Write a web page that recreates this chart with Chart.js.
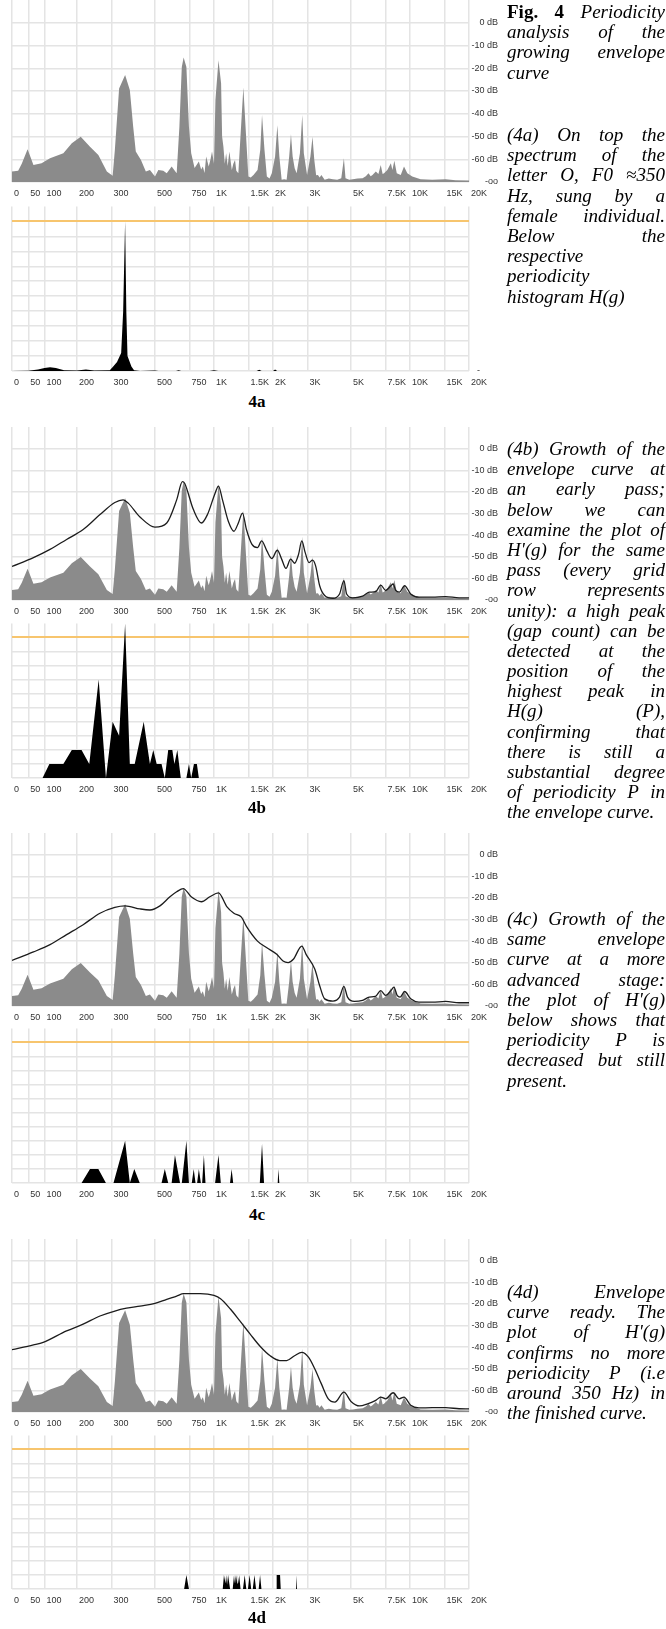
<!DOCTYPE html>
<html><head><meta charset="utf-8">
<script src="https://cdn.jsdelivr.net/npm/chart.js@4.4.1/dist/chart.umd.min.js"></script>
<style>
html,body{margin:0;padding:0;background:#fff}
body{width:666px;height:1629px;position:relative;overflow:hidden}
canvas{position:absolute;left:0}
.txt{position:absolute;left:507px;width:158px;font-family:"Liberation Serif","Times New Roman",serif;font-style:italic;font-size:19px;line-height:20.2px;color:#000}
.txt div{text-align:justify;text-align-last:justify;height:20.2px;white-space:normal}
.txt div.l{text-align-last:left}
.txt b{font-style:normal}
.lab{position:absolute;width:80px;margin-left:-40px;text-align:center;font:bold 17px "Liberation Serif","Times New Roman",serif;color:#000}
</style>
</head><body>
<script>
// ---------- axis definition ----------
const TICK_HZ     = [0, 50, 100, 200, 300, 500, 750, 1000, 1500, 2000, 3000, 5000, 7500, 10000, 15000, 20000];
const TICK_LABELS = ['0','50','100','200','300','500','750','1K','1.5K','2K','3K','5K','7.5K','10K','15K','20K'];
const DB_TICKS    = [-70, -60, -50, -40, -30, -20, -10, 0];
const COUNT_TICKS = [0, 1, 2, 3, 4, 5, 6, 7, 8, 9, 10];

// ---------- spectrum of the sung "O" (same in all four panels) ----------
const SPECTRUM_HZ = [0,19,30,48,66,91,117,158,184,209,233,257,284,304,312,328,352,372,387,399,424,449,471,500,520,551,574,608,645,666,685,700,723,745,765,796,837,860,877,895,912,940,960,977,1000,1017,1054,1087,1100,1117,1135,1153,1175,1198,1233,1255,1280,1300,1331,1368,1412,1455,1497,1540,1590,1668,1722,1758,1810,1861,1920,1972,2050,2105,2155,2214,2280,2347,2419,2470,2519,2580,2640,2744,2820,2873,2985,3104,3181,3249,3320,3391,3460,3531,3669,3850,4046,4250,4461,4600,4688,4900,5104,5400,5728,5950,6143,6300,6436,6692,6900,7092,7250,7373,7661,7988,8130,8320,8560,8970,9320,9690,10270,11330,12990,15200,17070,20000];
const SPECTRUM_DB = [-65.4,-65,-62,-55.6,-62.5,-61.8,-59.6,-57.4,-53,-50.1,-54.5,-58.1,-65.4,-67.2,-55.9,-28.9,-23,-29.6,-45.7,-56.6,-60.3,-65.4,-64.7,-67.6,-64.7,-65,-66.2,-63.2,-66.2,-45.7,-19.4,-15.3,-19.4,-45.7,-57.4,-63.9,-61,-64.5,-63.2,-66,-58.8,-63.2,-60,-56.6,-62,-34,-16.5,-26.7,-50,-54.5,-62,-57.4,-63,-56.6,-64.7,-62,-60.3,-65,-66.2,-48.6,-28.5,-48.6,-67.6,-68,-66.9,-64.7,-55.9,-40.6,-55.9,-67.6,-68.5,-66.2,-58.8,-45,-58.8,-69,-68.8,-69,-58.8,-49,-58.8,-64,-66.2,-57.4,-40.6,-57.4,-66.9,-58.8,-50.1,-60.3,-67,-66.9,-68,-66.9,-69,-68.5,-68.8,-69,-68.3,-59.6,-68.3,-69,-68.8,-68.5,-68.3,-67.5,-66.2,-67.5,-66.9,-65.4,-66.5,-62.5,-66.5,-66.2,-64.7,-61.8,-64.7,-60.7,-66.2,-66.9,-63.2,-66.2,-67.6,-68.8,-69,-68.8,-69.2,-69.3];

// ---------- envelope curves (4b, 4c, 4d) ----------
const ENV_B_HZ = [0,66,117,168,215,262,312,344,365,419,500,574,645,690,708,785,863,926,1013,1054,1105,1183,1263,1331,1397,1464,1562,1667,1750,1861,1972,2105,2214,2330,2460,2577,2700,2805,2920,3055,3181,3300,3460,3669,4046,4370,4600,4750,5104,5728,6193,6692,7092,7516,7988,8200,8460,8820,9390,10080,11100,12990,15200,17800,20000];
const ENV_B_DB = [-54.5,-50.4,-46.6,-42,-37.4,-30.5,-24.9,-23.7,-25.2,-31.6,-36.3,-34.4,-23.7,-15.3,-16,-28.2,-34.4,-30.5,-20.6,-17.3,-23.7,-33.6,-38.2,-34.4,-29.8,-37.4,-44.3,-45.8,-42.7,-47.3,-50.8,-47,-51.1,-55.4,-51.1,-53,-48.9,-42.7,-48.1,-52.7,-51.6,-54.2,-63.4,-67.9,-69.2,-67.2,-61,-67.2,-69,-68.2,-66.4,-66.1,-63.1,-65.6,-63.4,-62.6,-65.6,-66.4,-63.4,-67.2,-68.7,-68.7,-68.4,-69,-69];
const ENV_C_HZ = [0,66,117,168,215,262,312,352,419,471,530,596,645,697,765,863,952,1054,1162,1263,1380,1464,1667,1861,2090,2250,2390,2540,2805,2950,3270,3460,3669,4046,4370,4600,4800,5200,5728,6193,6650,7092,7516,7988,8280,8600,8900,9390,10080,11100,12990,15200,17800,20000];
const ENV_C_DB = [-48.9,-45,-41.6,-37,-32.4,-27.1,-24.4,-23.7,-25.1,-25.6,-23.7,-19.5,-17.2,-15.7,-19.5,-21.8,-19.5,-17.7,-24,-27.1,-28.9,-33.2,-40,-43.1,-46.1,-49.2,-49.9,-48.4,-42.3,-46.1,-53,-60.6,-66.7,-67.7,-65.9,-60.9,-65.9,-67.9,-67.4,-65.9,-65.6,-62.9,-65.1,-62.9,-61.3,-65.1,-65.9,-63.3,-66.7,-68.2,-68.2,-67.9,-68.5,-68.5];
const ENV_D_HZ = [0,66,96,168,215,262,312,358,419,500,574,645,700,851,1000,1080,1215,1355,1530,1722,1935,2170,2347,2577,2805,3040,3270,3531,3830,4140,4600,5000,5530,6080,6692,7092,7516,8200,8820,9320,10080,11100,12990,15200,17800,20000];
const ENV_D_DB = [-41.2,-39,-37.8,-32.5,-29.4,-25.6,-23.3,-22,-21,-19.8,-17.9,-16.4,-15.3,-15.3,-16.1,-17.6,-22.5,-27.9,-34,-39.7,-44,-46.2,-46.2,-44,-42.4,-44.7,-50.1,-57,-63.9,-65.4,-60.8,-65.1,-67.2,-66.2,-64.6,-63.1,-63.9,-61.1,-63.9,-63.1,-66.9,-68.1,-68,-68,-68.5,-68.6];

// ---------- periodicity histograms H(g) / H'(g) ----------
const HIST_A_HZ = [0,50,80,100,117,135,160,200,222,245,294,306,320,336,344,352,357,362,379,391,420,500,520,640,660,680,950,1000,1050,1650,1700,1750,2000,2050,2100,20000];
const HIST_A_N  = [0,0.02,0.1,0.2,0.25,0.2,0.05,0.03,0.1,0.03,0.05,0.3,0.6,1.2,4,10,4,1,0.3,0.05,0,0.03,0,0,0.05,0,0,0.05,0,0,0.08,0,0,0.1,0,0];
const HIST_B_HZ = [0,94,115,158,184,211,231,258,281,304,328,352,372,394,438,471,490,510,540,561,584,613,628,650,677,723,745,765,790,818,837,20000];
const HIST_B_N  = [0,0,1,1,2,2,1,7,0,4,3,11,1,1,4,1,2,1,1,0,2,2,1,2,0,0,1,0,1,1,0,0];
const HIST_C_HZ = [0,211,233,257,281,307,352,372,392,418,540,561,584,608,632,671,685,723,745,770,788,805,820,837,857,870,888,905,1013,1054,1083,1207,1230,1253,1713,1758,1800,2114,2130,2155,20000];
const HIST_C_N  = [0,0,1,1,0,0,3,0,1,0,0,1,0,0,2,0,0,3,0,0,1,0,0,1,0,0,2,0,0,2,0,0,1,0,0,2.8,0,0,1,0,0];
const HIST_D_HZ = [0,704,723,745,1108,1124,1145,1153,1166,1180,1208,1246,1265,1275,1284,1294,1304,1314,1324,1334,1344,1366,1406,1434,1462,1490,1519,1548,1577,1608,1639,1690,1718,1746,2072,2088,2173,2190,2590,2620,2650,20000];
const HIST_D_N  = [0,0,1,0,0,1,0.4,1,0.3,1,0,0,1,0.4,1,0.4,1,0.4,1,0.4,1,0,0,1,0,0,1,0,0,1,0,0,1,0,0,1,1,0,0,1,0,0];

// ---------- custom frequency scale: linear up to 200 Hz, logarithmic above ----------
const LIN_LIMIT = 200, LIN_SHARE = 65 / 457, LOG_SPAN = Math.log10(20000 / 200);
function hzToFrac(f) {
  if (f <= LIN_LIMIT) return f / LIN_LIMIT * LIN_SHARE;
  return LIN_SHARE + Math.log10(f / LIN_LIMIT) / LOG_SPAN * (1 - LIN_SHARE);
}
function fracToHz(t) {
  if (t <= LIN_SHARE) return t / LIN_SHARE * LIN_LIMIT;
  return LIN_LIMIT * Math.pow(10, (t - LIN_SHARE) / (1 - LIN_SHARE) * LOG_SPAN);
}
class FreqScale extends Chart.LinearScale {
  buildTicks() { return TICK_HZ.map(v => ({ value: v })); }
  getPixelForValue(v) { return (v == null || isNaN(v)) ? NaN : this.getPixelForDecimal(hzToFrac(v)); }
  getValueForPixel(p) { return fracToHz(this.getDecimalForPixel(p)); }
}
FreqScale.id = 'freq';
FreqScale.defaults = {};
Chart.register(FreqScale);

const pts = (xs, ys) => xs.map((x, i) => ({ x, y: ys[i] }));

const GRID = '#e4e4e4';
const TICK_FONT = { family: '"Liberation Sans", Arial, sans-serif', size: 9 };
const TICK_COLOR = '#333';

function xAxis() {
  return {
    type: 'freq', min: 0, max: 20000,
    border: { display: false },
    grid: { color: GRID, lineWidth: 1.5, drawTicks: false },
    ticks: { autoSkip: false, maxRotation: 0, minRotation: 0, align: 'start', labelOffset: 2, padding: 6,
             color: TICK_COLOR, font: TICK_FONT, callback: (v, i) => TICK_LABELS[i] },
    afterFit: s => { s.height = 18; }
  };
}

function makeCanvas(top, height) {
  const c = document.createElement('canvas');
  c.width = 510; c.height = height;
  c.style.top = top + 'px';
  c.style.width = '510px'; c.style.height = height + 'px';
  document.body.appendChild(c);
  return c;
}

function spectrumChart(top, height, envHz, envDb) {
  const datasets = [];
  if (envHz) datasets.push({ data: pts(envHz, envDb), borderColor: '#1c1c1c', borderWidth: 1.3, fill: false,
                             pointRadius: 0, cubicInterpolationMode: 'monotone' });
  datasets.push({ data: pts(SPECTRUM_HZ, SPECTRUM_DB), borderWidth: 0, backgroundColor: '#8b8b8b',
                  fill: 'start', pointRadius: 0, tension: 0 });
  new Chart(makeCanvas(top, height), {
    type: 'line',
    data: { datasets },
    options: {
      responsive: false, animation: false, devicePixelRatio: 1,
      layout: { padding: { top: 10, left: 12, right: 12, bottom: 0 } },
      plugins: { legend: { display: false }, tooltip: { enabled: false } },
      scales: {
        x: xAxis(),
        y: {
          position: 'right', min: -70, max: 10,
          border: { display: false },
          grid: { color: GRID, lineWidth: 1.5, drawTicks: false },
          afterBuildTicks: s => { s.ticks = DB_TICKS.map(v => ({ value: v })); },
          ticks: { crossAlign: 'far', padding: 0, color: TICK_COLOR, font: TICK_FONT,
                   callback: v => v === -70 ? '-oo' : v + ' dB' },
          afterFit: s => { s.width = 29; }
        }
      }
    }
  });
}

function histChart(top, height, hz, n, bottomMark) {
  new Chart(makeCanvas(top, height), {
    type: 'line',
    data: { datasets: [{ data: pts(hz, n), borderWidth: 0, backgroundColor: '#000', fill: 'origin',
                         pointRadius: 0, tension: 0 }] },
    options: {
      responsive: false, animation: false, devicePixelRatio: 1,
      layout: { padding: { top: 10, left: 12, right: 12, bottom: 0 } },
      plugins: { legend: { display: false }, tooltip: { enabled: false } },
      scales: {
        x: xAxis(),
        y: {
          position: 'right', min: 0, max: 11,
          border: { display: false },
          grid: { drawTicks: false,
                  color: c => c.tick && c.tick.value === 10 ? '#f7c56e' : GRID,
                  lineWidth: c => c.tick && c.tick.value === 10 ? 2 : 1.5 },
          afterBuildTicks: s => { s.ticks = COUNT_TICKS.map(v => ({ value: v })); },
          ticks: { display: true, crossAlign: 'near', padding: 8, color: TICK_COLOR, font: TICK_FONT,
                   callback: v => (bottomMark && v === 0) ? '-' : '' },
          afterFit: s => { s.width = 29; }
        }
      }
    }
  });
}

// panel 4a
spectrumChart(-10, 210, null, null);
histChart(193, 196, HIST_A_HZ, HIST_A_N, true);
// panel 4b
spectrumChart(417, 201, ENV_B_HZ, ENV_B_DB);
histChart(610, 186, HIST_B_HZ, HIST_B_N, false);
// panel 4c
spectrumChart(823, 201, ENV_C_HZ, ENV_C_DB);
histChart(1015, 186, HIST_C_HZ, HIST_C_N, false);
// panel 4d
spectrumChart(1229, 201, ENV_D_HZ, ENV_D_DB);
histChart(1422, 185, HIST_D_HZ, HIST_D_N, false);
</script>

<div class="lab" style="left:257px;top:392px">4a</div>
<div class="lab" style="left:257px;top:798px">4b</div>
<div class="lab" style="left:257px;top:1205px">4c</div>
<div class="lab" style="left:257px;top:1608px">4d</div>

<div class="txt" style="top:2px">
<div><b>Fig. 4</b> Periodicity</div>
<div>analysis of the</div>
<div>growing envelope</div>
<div class="l">curve</div>
</div>

<div class="txt" style="top:125px">
<div>(4a) On top the</div>
<div>spectrum of the</div>
<div>letter O, F0 ≈350</div>
<div>Hz, sung by a</div>
<div>female individual.</div>
<div>Below the</div>
<div class="l">respective</div>
<div class="l">periodicity</div>
<div class="l">histogram H(g)</div>
</div>

<div class="txt" style="top:439px">
<div>(4b) Growth of the</div>
<div>envelope curve at</div>
<div>an early pass;</div>
<div>below we can</div>
<div>examine the plot of</div>
<div>H'(g) for the same</div>
<div>pass (every grid</div>
<div>row represents</div>
<div>unity): a high peak</div>
<div>(gap count) can be</div>
<div>detected at the</div>
<div>position of the</div>
<div>highest peak in</div>
<div>H(g) (P),</div>
<div>confirming that</div>
<div>there is still a</div>
<div>substantial degree</div>
<div>of periodicity P in</div>
<div class="l">the envelope curve.</div>
</div>

<div class="txt" style="top:909px">
<div>(4c) Growth of the</div>
<div>same envelope</div>
<div>curve at a more</div>
<div>advanced stage:</div>
<div>the plot of H'(g)</div>
<div>below shows that</div>
<div>periodicity P is</div>
<div>decreased but still</div>
<div class="l">present.</div>
</div>

<div class="txt" style="top:1282px">
<div>(4d) Envelope</div>
<div>curve ready. The</div>
<div>plot of H'(g)</div>
<div>confirms no more</div>
<div>periodicity P (i.e</div>
<div>around 350 Hz) in</div>
<div class="l">the finished curve.</div>
</div>
</body></html>
